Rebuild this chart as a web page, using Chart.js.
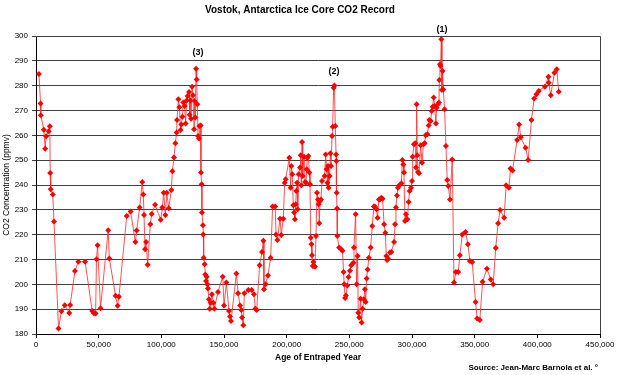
<!DOCTYPE html>
<html>
<head>
<meta charset="utf-8">
<script src="https://cdn.jsdelivr.net/npm/chart.js@4/dist/chart.umd.min.js"></script>
<style>
  html, body { margin: 0; padding: 0; background: #fff; }
  #wrap { width: 617px; height: 375px; }
</style>
</head>
<body>
<div id="wrap"><canvas id="vostok" width="617" height="375"></canvas></div>
<script>
// gas age (years before present) and CO2 (ppmv)
const ageYears = [
  2342, 3634, 3833, 6220, 7327, 8113, 10123, 11013, 11326, 11719, 13405, 14340,
  17967, 20287, 22944, 26550, 27240, 31085, 33812, 39204, 44808, 46284, 47570,
  48278, 49138, 51467, 57613, 58537, 63466, 65111, 66170,
  72400, 75500, 79300, 80300, 82700, 84800, 85600, 86200, 87000, 87800, 89100,
  91200, 92300, 95000, 99500, 100800, 101900, 103200, 104300, 105900, 108000,
  108800, 110100, 111200, 112200, 112500, 113600, 114400, 115400, 116000, 116800,
  117600, 118600, 119400, 120200, 121000, 122100, 122600, 123200, 123700, 124500,
  125300, 126100, 126600, 127100, 127700, 128200, 128700, 129300, 130100, 130300,
  131400, 131600, 132200, 132400, 133200, 133500, 133800, 134600, 135100, 135700,
  136200, 136700, 137200, 138000, 138600, 139400, 140400, 141500, 142300,
  145200, 149000, 150000, 151900, 154000, 154800, 155600, 159900, 161200, 162800,
  163800, 164400, 165400, 166200, 169400, 172100, 173900, 175000, 176100, 178400,
  180300, 181400, 181900, 183200, 185100, 187200, 188800, 190900, 191500, 192600,
  194700, 195700, 197300, 198400, 199200, 202100, 203200, 203700, 204500, 205300,
  205900, 206600, 207200, 207700, 208300, 208800, 209600, 210700, 211200, 211700,
  212300, 212800, 213900, 214700,
  215400, 216000, 216500, 217300, 218100, 218600, 219200, 219700, 220200, 220800,
  221300, 221800, 222600, 223400, 224200, 225000, 225500, 226000, 226600, 227400,
  228200, 230300, 231100, 231900, 232500, 233000, 233500, 234300, 234900, 235400,
  236200, 236700, 237500, 238100, 238800, 239400, 239600, 239900, 240200, 240400,
  241800, 243500, 244500, 245400, 245900, 246600, 247300, 248400, 249400, 250500,
  251500, 253200, 253700, 255000, 255800, 256600, 257100, 257900, 259000, 259800,
  260600, 261600, 262400, 263000, 263800, 264600, 265600, 267000, 268300, 269600,
  270400, 271700, 272500, 273600, 274400, 275500, 276500, 277700, 278700, 279500,
  280100, 280900, 282400, 283500,
  285700, 286500, 287200, 288000, 288800, 289900, 291500, 292300, 293100, 293600,
  294400, 295200, 296300, 297300, 298100, 299200, 300000, 300500, 301600, 302600,
  303200, 303700, 304200, 304800, 305600, 306900, 308000, 309100, 310100, 310900,
  312200, 313300, 313800, 314900, 315700, 316500, 317300, 318000, 319100, 319600,
  320700, 321500, 321800, 322300, 322800, 323400, 323900, 324400, 325000, 326000,
  327100, 328100, 328900, 330300, 332100, 333500, 335000, 336900, 338200, 340100,
  342700, 344600, 346200, 348000, 350700, 352000, 354100, 356300, 359800, 362800,
  364800, 366800, 368700, 370300, 373500, 375100, 377300, 378600, 380200, 383900,
  385500, 386800, 390600, 392700, 395300, 397500, 399300, 401200, 406000, 408800,
  409100, 410700, 413600, 415500, 417100
];
const co2Ppmv = [
  284.7, 272.8, 268.1, 262.2, 254.6, 259.6, 261.6, 263.7, 244.8, 238.3, 236.2, 225.3,
  182.2, 189.2, 191.6, 188.5, 191.7, 205.4, 209.1, 209.1, 189.3, 188.4, 188.3,
  210.1, 215.7, 190.4, 221.8, 210.4, 195.4, 191.4, 195.0,
  227.5, 229.3, 217.0, 221.7, 230.9, 241.2, 236.2, 227.9, 214.1, 217.0, 207.9,
  224.2, 228.3, 232.0, 226.0, 230.9, 236.9, 227.9, 236.9, 230.6, 238.0,
  245.5, 251.1, 256.8, 261.1, 266.2, 274.5, 271.3, 262.1, 264.4, 267.5,
  273.2, 271.8, 264.8, 274.0, 275.8, 277.4, 268.3, 274.0, 266.7, 279.6,
  276.1, 262.4, 273.8, 267.2, 286.8, 282.5, 272.5, 259.7, 258.7, 263.8,
  264.0, 245.0, 240.3, 228.9, 223.8, 220.1, 210.7, 208.1, 204.0, 201.3,
  203.1, 200.0, 198.3, 194.0, 190.2, 192.6, 196.0, 192.6, 190.2,
  196.9, 203.1, 191.5, 200.7, 189.3, 187.0, 185.2, 204.4, 196.4, 191.5,
  189.7, 186.6, 183.5, 196.4, 197.7, 197.7, 196.0, 190.2, 189.7, 207.7,
  213.0, 217.6, 198.0, 200.0, 203.6, 210.7, 231.3, 231.3, 220.1, 217.9,
  226.4, 219.9, 226.4, 240.9, 242.3, 251.0, 238.9, 247.7, 244.3, 231.8,
  228.9, 226.2, 232.2, 237.6, 240.9, 230.2, 244.3, 247.0, 252.0, 239.9,
  257.3, 243.6, 251.4, 241.2,
  240.9, 246.3, 251.0, 251.7, 245.0, 240.3, 218.8, 216.1, 211.7, 207.4,
  209.0, 207.4, 207.1, 219.5, 236.9, 234.2, 232.2, 224.6, 233.6, 234.2,
  241.6, 243.6, 252.3, 246.3, 240.9, 247.7, 238.9, 243.6, 252.8, 247.7,
  259.7, 263.5, 279.2, 280.1, 263.8, 252.3, 249.7, 236.9, 230.5, 219.5,
  214.8, 214.1, 213.5, 205.0, 200.0, 194.5, 195.5, 199.5, 203.0, 205.5,
  207.7, 208.7, 214.8, 228.2, 200.0, 211.4, 188.6, 186.6, 194.2, 184.6,
  190.2, 194.0, 198.0, 192.9, 202.3, 206.0, 210.7, 214.8, 223.5, 231.3,
  231.3, 230.2, 226.8, 234.2, 234.2, 234.9, 234.5, 224.2, 220.8, 211.4,
  209.8, 210.3, 212.8, 213.0,
  217.0, 224.2, 230.9, 235.8, 238.9, 239.9, 240.7, 250.1, 248.3, 245.0,
  225.5, 228.2, 226.2, 233.2, 237.6, 238.9, 241.6, 251.4, 256.4, 256.8,
  247.0, 272.5, 252.0, 245.2, 244.7, 256.0, 249.0, 256.4, 256.8, 260.0,
  260.4, 264.0, 266.2, 265.8, 269.8, 271.5, 275.2, 271.8, 264.8, 271.1,
  272.5, 273.2, 282.3, 288.6, 287.9, 298.7, 278.3, 285.9, 278.5, 270.5,
  255.7, 242.0, 239.6, 234.2, 250.3, 200.7, 205.0, 205.0, 211.7, 220.1,
  221.1, 216.1, 209.4, 209.0, 192.9, 186.2, 185.6, 201.0, 206.3, 201.9,
  200.0, 214.6, 224.6, 229.9, 226.8, 239.9, 238.9, 246.6, 245.8, 258.1,
  264.4, 259.2, 255.0, 250.1, 266.2, 274.8, 276.5, 277.9, 279.6, 283.6,
  281.2, 276.1, 285.2, 286.6, 277.6
];

// peak markers shown above the interglacial maxima
const peakLabels = ['(1)', '(2)', '(3)'];
const peakAges = [324000, 237800, 129300];
const peakLevels = [302.8, 285.5, 293.2];

const chartTitle = 'Vostok, Antarctica Ice Core CO2 Record';
const xTitle = 'Age of Entraped Year';
const yTitle = 'CO2 Concentration (ppmv)';
const sourceNote = 'Source: Jean-Marc Barnola et al. \u00b0';

Chart.defaults.font.family = '"Liberation Sans", Arial, sans-serif';
Chart.defaults.color = '#000';

const extras = {
  id: 'extras',
  afterDraw(chart) {
    const { ctx, chartArea: a, scales } = chart;
    ctx.save();
    // plot frame (top and right edges)
    ctx.strokeStyle = '#404040';
    ctx.lineWidth = 1;
    ctx.beginPath();
    ctx.moveTo(a.left, a.top + 0.5);
    ctx.lineTo(a.right + 0.5, a.top + 0.5);
    ctx.lineTo(a.right + 0.5, a.bottom);
    ctx.stroke();

    ctx.fillStyle = '#000';
    ctx.font = 'bold 9px "Liberation Sans", Arial, sans-serif';
    ctx.textAlign = 'center';
    ctx.textBaseline = 'middle';
    peakLabels.forEach((t, i) => {
      ctx.fillText(t, scales.x.getPixelForValue(peakAges[i]), scales.y.getPixelForValue(peakLevels[i]));
    });

    ctx.font = 'bold 8px "Liberation Sans", Arial, sans-serif';
    ctx.textAlign = 'right';
    ctx.fillText(sourceNote, 598, 368);
    ctx.restore();
  }
};

new Chart(document.getElementById('vostok'), {
  type: 'line',
  data: {
    datasets: [{
      data: ageYears.map((a, i) => ({ x: a, y: co2Ppmv[i] })),
      borderColor: 'rgba(255, 40, 40, 0.8)',
      borderWidth: 1,
      pointStyle: 'rectRot',
      pointRadius: 3,
      pointBackgroundColor: '#ff0000',
      pointBorderColor: '#ff0000',
      pointBorderWidth: 0,
      tension: 0
    }]
  },
  options: {
    responsive: false,
    animation: false,
    devicePixelRatio: 1,
    layout: { padding: { left: 0, right: 17, top: 0, bottom: 12 } },
    scales: {
      x: {
        type: 'linear',
        min: 0,
        max: 450000,
        afterFit: (s) => { s.height = 29; },
        ticks: {
          stepSize: 50000,
          maxRotation: 0,
          padding: 2,
          font: { size: 8 },
          callback: (v) => v.toLocaleString('en-US')
        },
        grid: { drawOnChartArea: false, drawTicks: true, tickLength: 4, color: '#000' },
        border: { color: '#000', width: 1 },
        title: { display: true, text: xTitle, font: { size: 8.5, weight: 'bold' }, padding: 0 }
      },
      y: {
        min: 180,
        max: 300,
        afterFit: (s) => { s.width = 36; },
        ticks: { stepSize: 10, padding: 4, font: { size: 8 } },
        grid: { color: '#404040', tickLength: 4 },
        border: { color: '#000', width: 1 },
        title: { display: true, text: yTitle, font: { size: 8.5 }, padding: { top: 2, bottom: 0 } }
      }
    },
    plugins: {
      legend: { display: false },
      tooltip: { enabled: false },
      title: {
        display: true,
        text: chartTitle,
        font: { size: 10, weight: 'bold' },
        padding: { top: 4, bottom: 20 }
      }
    }
  },
  plugins: [extras]
});
</script>
</body>
</html>
